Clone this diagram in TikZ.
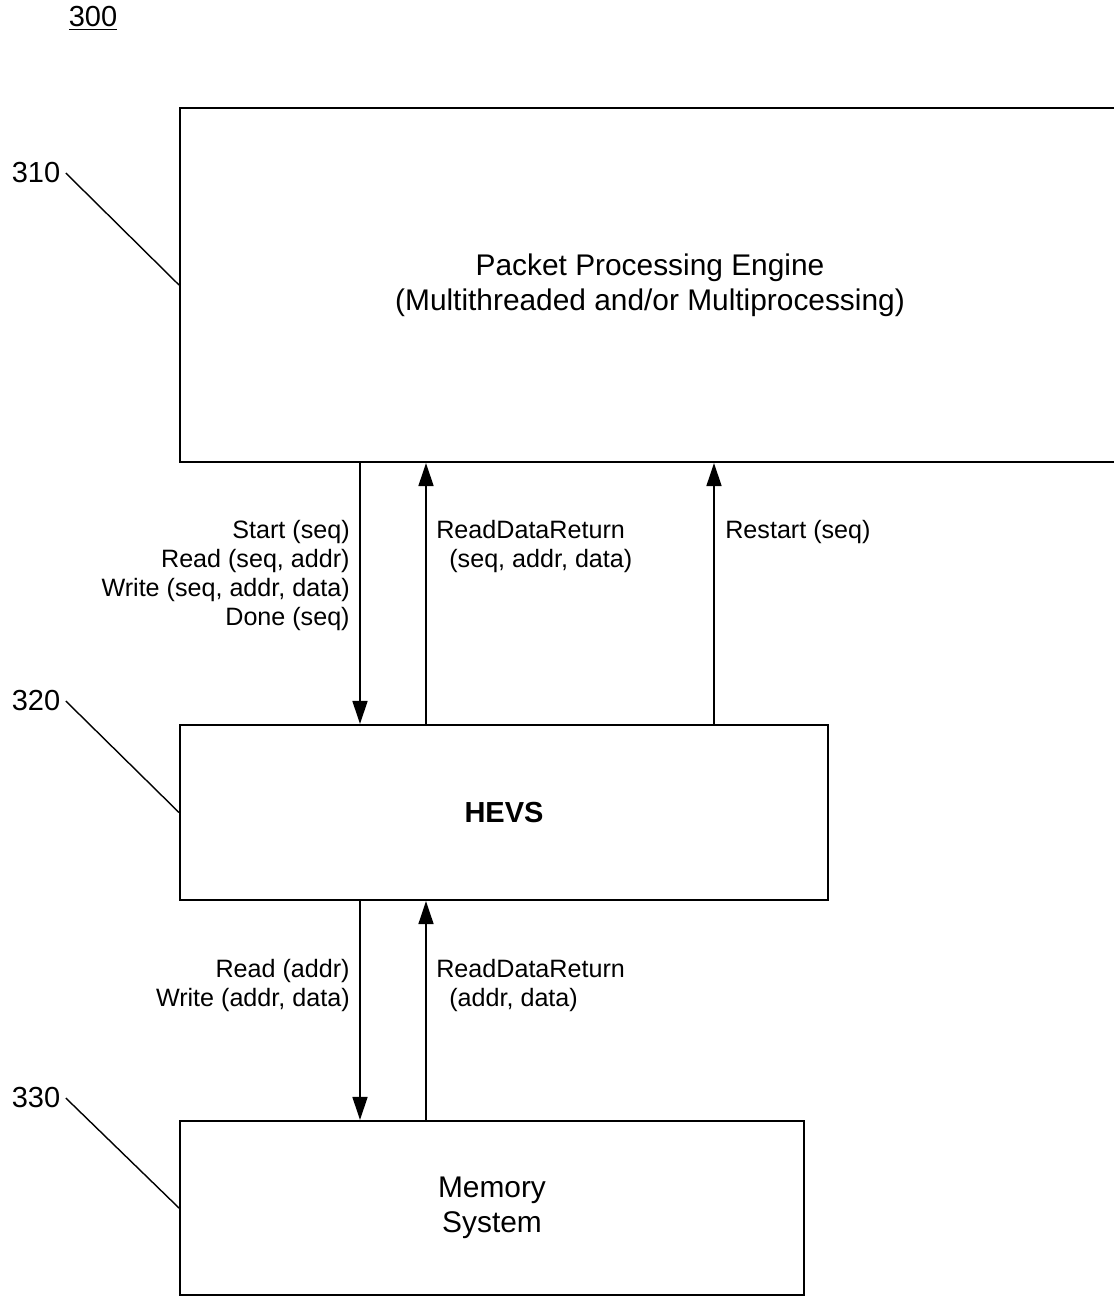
\documentclass[tikz,border=0pt]{standalone}
\usepackage{fontspec}
\setmainfont{Liberation Sans}
\usetikzlibrary{arrows.meta}

\tikzset{
  blk/.style={draw, line width=1.2pt, inner sep=0pt, align=center,
    font=\fontsize{17}{19.9}\selectfont},
  sig/.style={line width=0.8pt, -{Triangle[length=0.46cm,width=0.3cm]}},
  lbl/.style={inner sep=0pt, font=\fontsize{14.3}{16.5}\selectfont},
  refnum/.style={inner sep=3pt, font=\fontsize{16.5}{19.8}\selectfont},
  lead/.style={line width=0.8pt}
}

\begin{document}
\begin{tikzpicture}[x=0.02cm, y=-0.02cm]
  \useasboundingbox (0,0) rectangle (1114,1296);

  \node[blk, minimum width=18.8cm, minimum height=7.08cm]
    (ppe) at (650, 285) {Packet Processing Engine\\(Multithreaded and/or Multiprocessing)};

  \node[blk, minimum width=12.96cm, minimum height=3.5cm,
    font=\fontsize{16.5}{19.8}\selectfont\bfseries]
    (hevs) at (504, 812.5) {HEVS};

  \node[blk, minimum width=12.48cm, minimum height=3.48cm]
    (mem) at (492, 1208) {Memory\\System};

  \node[refnum] (fig) at (93, 18) {\underline{300}};

  \node[refnum] (n310) at (36, 173) {310};
  \node[refnum] (n320) at (36, 701) {320};
  \node[refnum] (n330) at (36, 1098) {330};

  \draw[lead] (n310.east) -- (ppe.west);
  \draw[lead] (n320.east) -- (hevs.west);
  \draw[lead] (n330.east) -- (mem.west);

  \coordinate (dn) at (360, 0);
  \coordinate (up) at (426, 0);
  \coordinate (rs) at (714, 0);

  \draw[sig] (ppe.south -| dn) -- (hevs.north -| dn);
  \draw[sig] (hevs.north -| up) -- (ppe.south -| up);
  \draw[sig] (hevs.north -| rs) -- (ppe.south -| rs);
  \draw[sig] (hevs.south -| dn) -- (mem.north -| dn);
  \draw[sig] (mem.north -| up) -- (hevs.south -| up);

  \node[lbl, anchor=north east, align=right]
    (cmds) at (350, 520) {Start (seq)\\Read (seq, addr)\\Write (seq, addr, data)\\Done (seq)};
  \node[lbl, anchor=north west, align=left]
    (rdr) at (436, 520) {ReadDataReturn\\\hspace*{0.26cm}(seq, addr, data)};
  \node[lbl, anchor=north west]
    (rst) at (725, 520) {Restart (seq)};

  \node[lbl, anchor=north east, align=right]
    (memcmds) at (350, 959) {Read (addr)\\Write (addr, data)};
  \node[lbl, anchor=north west, align=left]
    (memrdr) at (436, 959) {ReadDataReturn\\\hspace*{0.26cm}(addr, data)};

\end{tikzpicture}
\end{document}
